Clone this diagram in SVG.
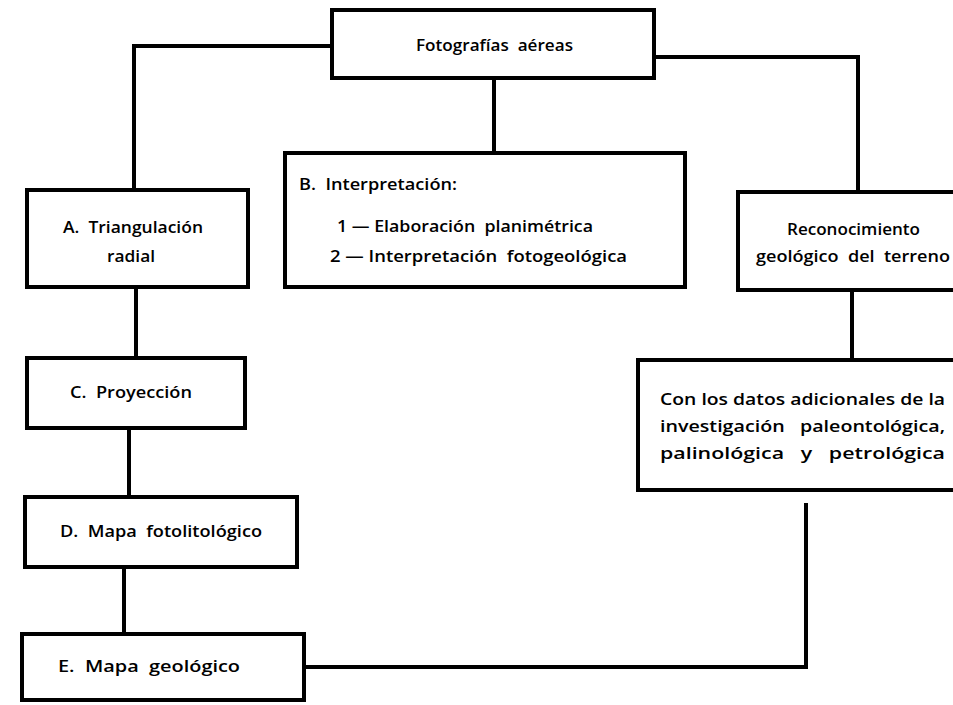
<svg xmlns="http://www.w3.org/2000/svg" width="953" height="705" viewBox="0 0 953 705">
<style>
.box{fill:#fff;stroke:#000;stroke-width:4}
.ln{fill:none;stroke:#000;stroke-width:4}
text{font-family:"Open Sans","Liberation Sans",sans-serif;font-weight:600;font-size:17px;fill:#000;white-space:pre}
</style>
<rect width="953" height="705" fill="#fff"/>
<g id="connectors">
<path class="ln" d="M332 46 H134 V190"/>
<path class="ln" d="M494 78 V153"/>
<path class="ln" d="M654 57 H858 V192"/>
<path class="ln" d="M136 287 V358"/>
<path class="ln" d="M129 428 V497"/>
<path class="ln" d="M124 567 V634"/>
<path class="ln" d="M852 290 V360"/>
<path class="ln" d="M304 667 H806 V503"/>
</g>
<g id="n-fotografias">
<rect class="box" x="332" y="10" width="322" height="68"/>
<text x="416" y="51" textLength="157" lengthAdjust="spacingAndGlyphs">Fotografías  aéreas</text>
</g>
<g id="n-interpretacion">
<rect class="box" x="285" y="153" width="400" height="134"/>
<text x="299" y="190" textLength="158" lengthAdjust="spacingAndGlyphs">B.  Interpretación:</text>
<text x="337" y="232" textLength="256" lengthAdjust="spacingAndGlyphs">1 — Elaboración  planimétrica</text>
<text x="330" y="262" textLength="297" lengthAdjust="spacingAndGlyphs">2 — Interpretación  fotogeológica</text>
</g>
<g id="n-triangulacion">
<rect class="box" x="27" y="190" width="221" height="97"/>
<text x="63" y="233" textLength="140" lengthAdjust="spacingAndGlyphs">A.  Triangulación</text>
<text x="107" y="262" textLength="48" lengthAdjust="spacingAndGlyphs">radial</text>
</g>
<g id="n-reconocimiento">
<rect class="box" x="738" y="192" width="220" height="98"/>
<text x="787" y="235" textLength="133" lengthAdjust="spacingAndGlyphs">Reconocimiento</text>
<text x="756" y="262" textLength="194" lengthAdjust="spacingAndGlyphs">geológico  del  terreno</text>
</g>
<g id="n-datos">
<rect class="box" x="638" y="360" width="320" height="130"/>
<text x="660" y="405" textLength="285" lengthAdjust="spacingAndGlyphs">Con los datos adicionales de la</text>
<text x="660" y="432" textLength="285" lengthAdjust="spacingAndGlyphs">investigación   paleontológica,</text>
<text x="660" y="459" textLength="285" lengthAdjust="spacingAndGlyphs">palinológica   y   petrológica</text>
</g>
<g id="n-proyeccion">
<rect class="box" x="27" y="358" width="218" height="70"/>
<text x="70" y="398" textLength="122" lengthAdjust="spacingAndGlyphs">C.  Proyección</text>
</g>
<g id="n-fotolitologico">
<rect class="box" x="25" y="497" width="272" height="70"/>
<text x="60" y="537" textLength="202" lengthAdjust="spacingAndGlyphs">D.  Mapa  fotolitológico</text>
</g>
<g id="n-geologico">
<rect class="box" x="22" y="634" width="282" height="66"/>
<text x="58" y="672" textLength="182" lengthAdjust="spacingAndGlyphs">E.  Mapa  geológico</text>
</g>
</svg>
